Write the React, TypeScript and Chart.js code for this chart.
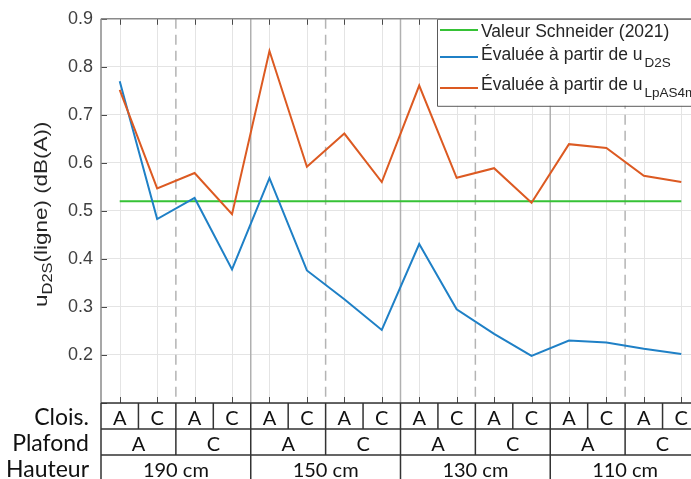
import { useEffect, useRef } from 'react';
import { Chart, registerables } from 'chart.js';

Chart.register(...registerables);

// Configuration rows shown under the plot
const cloisons = ['A', 'C', 'A', 'C', 'A', 'C', 'A', 'C', 'A', 'C', 'A', 'C', 'A', 'C', 'A', 'C'];
const plafonds = ['A', 'C', 'A', 'C', 'A', 'C', 'A', 'C'];
const hauteurs = ['190 cm', '150 cm', '130 cm', '110 cm'];
const rowLabels = ['Clois.', 'Plafond', 'Hauteur'];

// Uncertainty values u_D2S(ligne) in dB(A)
const valeurSchneider = 0.52;
const evalueeD2S = [0.770, 0.483, 0.527, 0.378, 0.568, 0.376, 0.316, 0.252, 0.431, 0.295, 0.244, 0.198, 0.230, 0.226, 0.213, 0.202];
const evalueeLpAS4m = [0.752, 0.547, 0.579, 0.493, 0.833, 0.592, 0.661, 0.560, 0.761, 0.569, 0.589, 0.517, 0.639, 0.631, 0.573, 0.560];
const yTickValues = [0.1, 0.2, 0.3, 0.4, 0.5, 0.6, 0.7, 0.8, 0.9];

const GREEN = '#36c236';
const BLUE = '#1f80c6';
const ORANGE = '#dc5a22';
const TEXT = '#262626';
const SANS = '"Liberation Sans", Arial, sans-serif';
const TABLE_FONT = 'Lato, "Open Sans", sans-serif';

const TABLE_TOP = 403;
const ROW_H = [26, 26, 26];

const decorations = {
  id: 'decorations',
  beforeDraw(chart: any) {
    const { ctx, width, height } = chart;
    ctx.save();
    ctx.fillStyle = '#ffffff';
    ctx.fillRect(0, 0, width, height);
    ctx.restore();
  },
  beforeDatasetsDraw(chart: any) {
    const { ctx, chartArea, scales } = chart;
    const x = scales.x;
    const y = scales.y;
    ctx.save();
    // vertical grid at each configuration
    ctx.strokeStyle = '#e4e4e4';
    ctx.lineWidth = 1;
    cloisons.forEach((_, i) => {
      const px = Math.round(x.getPixelForValue(i)) + 0.5;
      ctx.beginPath();
      ctx.moveTo(px, chartArea.top);
      ctx.lineTo(px, chartArea.bottom);
      ctx.stroke();
    });
    // ceiling boundaries (dashed) and height boundaries (solid)
    plafonds.forEach((_, p) => {
      if (p === 0) return;
      const v = p * 2 - 0.5;
      const px = x.getPixelForValue(v);
      ctx.beginPath();
      ctx.lineWidth = 1.5;
      if (p % 2 === 1) {
        ctx.strokeStyle = '#b4b4b4';
        ctx.setLineDash([10, 6]);
      } else {
        ctx.strokeStyle = '#b0b0b0';
        ctx.setLineDash([]);
      }
      ctx.moveTo(px, chartArea.top);
      ctx.lineTo(px, chartArea.bottom);
      ctx.stroke();
    });
    ctx.setLineDash([]);
    // inward tick marks
    ctx.strokeStyle = '#4a4a4a';
    ctx.lineWidth = 1;
    cloisons.forEach((_, i) => {
      const px = Math.round(x.getPixelForValue(i)) + 0.5;
      ctx.beginPath();
      ctx.moveTo(px, chartArea.bottom);
      ctx.lineTo(px, chartArea.bottom - 6);
      ctx.moveTo(px, chartArea.top);
      ctx.lineTo(px, chartArea.top + 6);
      ctx.stroke();
    });
    yTickValues.forEach((v) => {
      const py = Math.round(y.getPixelForValue(v)) + 0.5;
      ctx.beginPath();
      ctx.moveTo(chartArea.left, py);
      ctx.lineTo(chartArea.left + 6, py);
      ctx.stroke();
    });
    ctx.restore();
  },
  afterDraw(chart: any) {
    const { ctx, chartArea, scales } = chart;
    const x = scales.x;
    ctx.save();

    // axis box lines
    ctx.strokeStyle = '#8a8a8a';
    ctx.lineWidth = 1.5;
    ctx.beginPath();
    ctx.moveTo(chartArea.left, chartArea.top);
    ctx.lineTo(chart.width, chartArea.top);
    ctx.moveTo(chartArea.left, chartArea.top);
    ctx.lineTo(chartArea.left, chartArea.bottom);
    ctx.stroke();

    // y-axis title with subscript
    ctx.save();
    ctx.translate(47, 307);
    ctx.rotate(-Math.PI / 2);
    ctx.scale(1.18, 1);
    ctx.fillStyle = TEXT;
    ctx.textBaseline = 'alphabetic';
    ctx.textAlign = 'left';
    ctx.font = `19px ${SANS}`;
    ctx.fillText('u', 0, 0);
    let cx = ctx.measureText('u').width;
    ctx.font = `14px ${SANS}`;
    ctx.fillText('D2S', cx, 5);
    cx += ctx.measureText('D2S').width;
    ctx.font = `19px ${SANS}`;
    ctx.fillText('(ligne) (dB(A))', cx, 0);
    ctx.restore();

    // legend (its right part runs past the canvas edge)
    const lx = 437;
    const ly = chartArea.top;
    ctx.fillStyle = '#ffffff';
    ctx.fillRect(lx, ly, 420, 87);
    ctx.strokeStyle = '#5a5a5a';
    ctx.lineWidth = 1;
    ctx.beginPath();
    ctx.moveTo(lx + 420, ly + 0.5);
    ctx.lineTo(lx + 0.5, ly + 0.5);
    ctx.lineTo(lx + 0.5, ly + 87.5);
    ctx.lineTo(lx + 420, ly + 87.5);
    ctx.stroke();
    const entries = [
      { color: GREEN, lineY: 30, base: 37, text: 'Valeur Schneider (2021)', sub: '' },
      { color: BLUE, lineY: 57, base: 60, text: 'Évaluée à partir de u', sub: 'D2S' },
      { color: ORANGE, lineY: 88, base: 90, text: 'Évaluée à partir de u', sub: 'LpAS4m' },
    ];
    entries.forEach((e) => {
      ctx.strokeStyle = e.color;
      ctx.lineWidth = 2;
      ctx.beginPath();
      ctx.moveTo(440, e.lineY);
      ctx.lineTo(478, e.lineY);
      ctx.stroke();
      ctx.fillStyle = TEXT;
      ctx.textAlign = 'left';
      ctx.textBaseline = 'alphabetic';
      ctx.font = `17.5px ${SANS}`;
      ctx.fillText(e.text, 481, e.base);
      if (e.sub) {
        const w = ctx.measureText(e.text).width;
        ctx.font = `13.5px ${SANS}`;
        ctx.fillText(e.sub, 481 + w + 2, e.base + 7);
      }
    });

    // configuration table
    const left = chartArea.left;
    const right = chart.width;
    const r0 = TABLE_TOP;
    const r1 = r0 + ROW_H[0];
    const r2 = r1 + ROW_H[1];
    const r3 = r2 + ROW_H[2] + 10;
    ctx.strokeStyle = '#333333';
    ctx.lineWidth = 1.5;
    ctx.beginPath();
    [r0, r1, r2].forEach((ry) => {
      ctx.moveTo(left, ry);
      ctx.lineTo(right, ry);
    });
    ctx.moveTo(left, r0);
    ctx.lineTo(left, r3);
    cloisons.forEach((_, i) => {
      const px = x.getPixelForValue(i + 0.5);
      ctx.moveTo(px, r0);
      ctx.lineTo(px, r1);
    });
    plafonds.forEach((_, p) => {
      const px = x.getPixelForValue(p * 2 + 1.5);
      ctx.moveTo(px, r1);
      ctx.lineTo(px, r2);
    });
    hauteurs.forEach((_, h) => {
      const px = x.getPixelForValue(h * 4 + 3.5);
      ctx.moveTo(px, r2);
      ctx.lineTo(px, r3);
    });
    ctx.stroke();

    ctx.fillStyle = '#111111';
    ctx.textBaseline = 'alphabetic';
    ctx.textAlign = 'center';
    ctx.font = `20px ${TABLE_FONT}`;
    cloisons.forEach((c, i) => {
      ctx.fillText(c, x.getPixelForValue(i), r0 + 22);
    });
    plafonds.forEach((c, p) => {
      ctx.fillText(c, x.getPixelForValue(p * 2 + 0.5), r1 + 22);
    });
    hauteurs.forEach((c, h) => {
      ctx.fillText(c, x.getPixelForValue(h * 4 + 1.5), r2 + 22);
    });
    ctx.textAlign = 'right';
    ctx.font = `23px ${TABLE_FONT}`;
    ctx.fillText(rowLabels[0], 89, r0 + 22);
    ctx.fillText(rowLabels[1], 89, r1 + 22);
    ctx.fillText(rowLabels[2], 89, r2 + 22);

    ctx.restore();
  },
};

export default function App() {
  const canvasRef = useRef<HTMLCanvasElement | null>(null);

  useEffect(() => {
    const canvas = canvasRef.current;
    if (!canvas) return;
    const lastIndex = cloisons.length - 1;
    const chart = new Chart(canvas, {
      type: 'line',
      data: {
        datasets: [
          {
            label: 'Valeur Schneider (2021)',
            data: [
              { x: 0, y: valeurSchneider },
              { x: lastIndex, y: valeurSchneider },
            ],
            borderColor: GREEN,
            borderWidth: 2,
            pointRadius: 0,
            order: 3,
          },
          {
            label: 'Évaluée à partir de uD2S',
            data: evalueeD2S.map((v, i) => ({ x: i, y: v })),
            borderColor: BLUE,
            borderWidth: 2,
            pointRadius: 0,
            order: 2,
          },
          {
            label: 'Évaluée à partir de uLpAS4m',
            data: evalueeLpAS4m.map((v, i) => ({ x: i, y: v })),
            borderColor: ORANGE,
            borderWidth: 2,
            pointRadius: 0,
            order: 1,
          },
        ],
      },
      options: {
        animation: false,
        responsive: false,
        maintainAspectRatio: false,
        layout: { padding: { top: 15, right: 0, bottom: 479 - TABLE_TOP, left: 0 } },
        plugins: {
          legend: { display: false },
          tooltip: { enabled: false },
        },
        scales: {
          x: {
            type: 'linear',
            display: false,
            min: -0.5,
            max: 15.26,
          },
          y: {
            min: 0.1,
            max: 0.9,
            afterFit: (s: any) => {
              s.width = 101;
            },
            afterBuildTicks: (s: any) => {
              s.ticks = yTickValues.map((v) => ({ value: v }));
            },
            ticks: {
              padding: 8,
              color: '#404040',
              font: { family: SANS, size: 18 },
              callback: (v: any) => (Math.abs(Number(v) - 0.1) < 1e-6 ? '' : Number(v).toFixed(1)),
            },
            grid: { color: '#e4e4e4', drawTicks: false, lineWidth: 1 },
            border: { display: false },
          },
        },
      },
      plugins: [decorations],
    });
    return () => chart.destroy();
  }, []);

  return (
    <div style={{ position: 'fixed', left: 0, top: 0, width: 691, height: 479, background: '#fff' }}>
      <canvas ref={canvasRef} width={691} height={479} style={{ display: 'block', width: 691, height: 479 }} />
    </div>
  );
}
